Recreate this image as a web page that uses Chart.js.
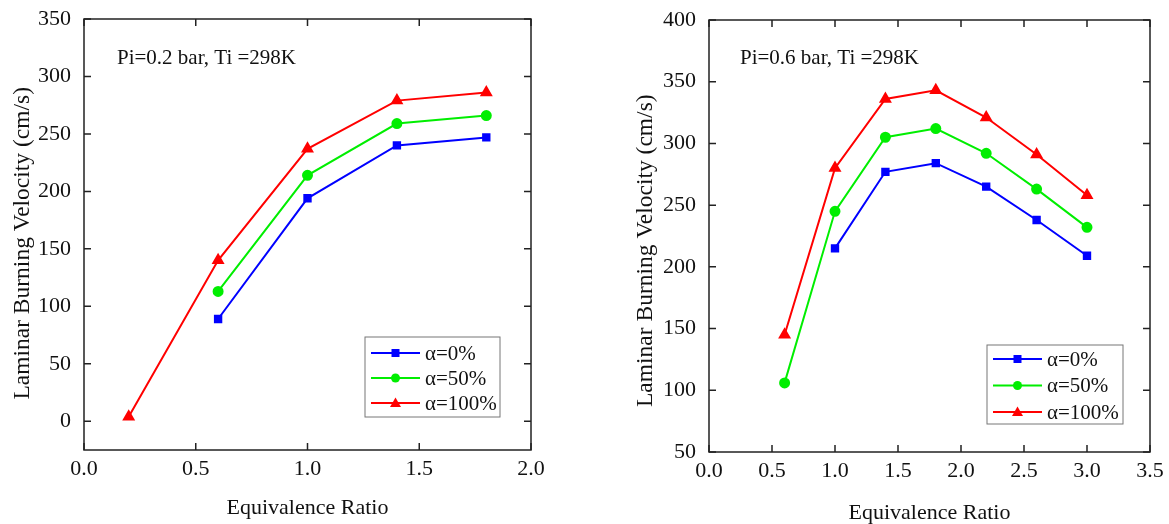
<!DOCTYPE html>
<html>
<head>
<meta charset="utf-8">
<script src="https://cdn.jsdelivr.net/npm/chart.js@4.4.1/dist/chart.umd.min.js"></script>
<style>
    html, body { margin: 0; padding: 0; background: #ffffff; }
    .panel { position: absolute; top: 0; }
    #leftPanel { left: 0; width: 560px; height: 524px; }
    #rightPanel { left: 600px; width: 569px; height: 524px; }
</style>
</head>
<body>
<div class="panel" id="leftPanel"><canvas id="leftChart" width="560" height="524"></canvas></div>
<div class="panel" id="rightPanel"><canvas id="rightChart" width="569" height="524"></canvas></div>
<script>
// series names and colours
const seriesNames = ['α=0%', 'α=50%', 'α=100%'];
const seriesColors = ['#0000ff', '#00ee00', '#ff0000'];
const seriesMarkers = ['rect', 'circle', 'triangle'];

// Pi = 0.2 bar
const leftX0 = [0.6, 1.0, 1.4, 1.8];
const leftY0 = [89, 194, 240, 247];
const leftX50 = [0.6, 1.0, 1.4, 1.8];
const leftY50 = [113, 214, 259, 266];
const leftX100 = [0.2, 0.6, 1.0, 1.4, 1.8];
const leftY100 = [4, 140, 237, 279, 286];
const leftXTicks = [0, 0.5, 1.0, 1.5, 2.0];
const leftYTicks = [0, 50, 100, 150, 200, 250, 300, 350];

// Pi = 0.6 bar
const rightX0 = [1.0, 1.4, 1.8, 2.2, 2.6, 3.0];
const rightY0 = [215, 277, 284, 265, 238, 209];
const rightX50 = [0.6, 1.0, 1.4, 1.8, 2.2, 2.6, 3.0];
const rightY50 = [106, 245, 305, 312, 292, 263, 232];
const rightX100 = [0.6, 1.0, 1.4, 1.8, 2.2, 2.6, 3.0];
const rightY100 = [145, 280, 336, 343, 321, 291, 258];
const rightXTicks = [0, 0.5, 1.0, 1.5, 2.0, 2.5, 3.0, 3.5];
const rightYTicks = [50, 100, 150, 200, 250, 300, 350, 400];

const FONT = "'Liberation Serif', 'Times New Roman', serif";

function toPoints(xs, ys) {
    return xs.map((x, i) => ({ x: x, y: ys[i] }));
}

// frame, inward ticks, note text and the boxed legend
const framePlugin = {
    id: 'frame',
    afterDraw(chart, args, opts) {
        const ctx = chart.ctx;
        const a = chart.chartArea;
        const xs = chart.scales.x;
        const ys = chart.scales.y;
        ctx.save();
        ctx.strokeStyle = '#222';
        ctx.lineWidth = 1.5;
        ctx.strokeRect(a.left, a.top, a.right - a.left, a.bottom - a.top);

        const len = 7;
        ctx.beginPath();
        xs.ticks.forEach(t => {
            const px = xs.getPixelForValue(t.value);
            ctx.moveTo(px, a.bottom); ctx.lineTo(px, a.bottom - len);
            ctx.moveTo(px, a.top); ctx.lineTo(px, a.top + len);
        });
        ys.ticks.forEach(t => {
            const py = ys.getPixelForValue(t.value);
            ctx.moveTo(a.left, py); ctx.lineTo(a.left + len, py);
            ctx.moveTo(a.right, py); ctx.lineTo(a.right - len, py);
        });
        ctx.stroke();

        // note
        ctx.fillStyle = '#111';
        ctx.font = '21px ' + FONT;
        ctx.textBaseline = 'middle';
        ctx.fillText(opts.note, a.left + opts.noteDx, a.top + opts.noteDy);

        // legend box
        const lb = opts.legend;
        const bx = a.right - lb.right - lb.w;
        const by = a.bottom - lb.bottom - lb.h;
        ctx.strokeStyle = '#777';
        ctx.lineWidth = 1;
        ctx.strokeRect(bx, by, lb.w, lb.h);
        chart.data.datasets.forEach((ds, i) => {
            const ry = by + lb.firstRow + i * lb.rowGap;
            const x1 = bx + 6, x2 = bx + 55, mx = (x1 + x2) / 2;
            ctx.strokeStyle = ds.borderColor;
            ctx.lineWidth = 2;
            ctx.beginPath();
            ctx.moveTo(x1, ry); ctx.lineTo(x2, ry);
            ctx.stroke();
            ctx.fillStyle = ds.borderColor;
            ctx.beginPath();
            if (ds.pointStyle === 'rect') {
                ctx.rect(mx - 4, ry - 4, 8, 8);
            } else if (ds.pointStyle === 'circle') {
                ctx.arc(mx, ry, 4.5, 0, Math.PI * 2);
            } else {
                ctx.moveTo(mx, ry - 5.5); ctx.lineTo(mx + 5.5, ry + 4); ctx.lineTo(mx - 5.5, ry + 4);
                ctx.closePath();
            }
            ctx.fill();
            ctx.fillStyle = '#111';
            ctx.font = '21px ' + FONT;
            ctx.fillText(ds.label, x2 + 5, ry + 1);
        });
        ctx.restore();
    }
};

function makeChart(canvasId, cfg) {
    const datasets = cfg.series.map((pts, i) => ({
        label: seriesNames[i],
        data: pts,
        borderColor: seriesColors[i],
        backgroundColor: seriesColors[i],
        pointBackgroundColor: seriesColors[i],
        pointBorderColor: seriesColors[i],
        pointStyle: seriesMarkers[i],
        pointRadius: seriesMarkers[i] === 'triangle' ? 5.5 : 4.5,
        borderWidth: 2,
        tension: 0,
        fill: false
    }));

    return new Chart(document.getElementById(canvasId), {
        type: 'line',
        data: { datasets: datasets },
        options: {
            responsive: false,
            animation: false,
            layout: { padding: { top: cfg.padTop, right: cfg.padRight, left: 0, bottom: 0 } },
            plugins: {
                legend: { display: false },
                tooltip: { enabled: false },
                frame: cfg.frame
            },
            scales: {
                x: {
                    type: 'linear',
                    min: cfg.xTicks[0],
                    max: cfg.xTicks[cfg.xTicks.length - 1],
                    afterBuildTicks: s => { s.ticks = cfg.xTicks.map(v => ({ value: v })); },
                    afterFit: s => {
                        s.height = cfg.xAxisHeight;
                        s.paddingLeft = 0;
                        s.paddingRight = 0;
                    },
                    grid: { display: false, drawTicks: false, tickLength: 0 },
                    border: { display: false },
                    ticks: {
                        color: '#111',
                        font: { family: FONT, size: 22 },
                        padding: 6,
                        maxRotation: 0,
                        callback: v => Number(v).toFixed(1)
                    },
                    title: {
                        display: true,
                        text: 'Equivalence Ratio',
                        color: '#111',
                        font: { family: FONT, size: 22 },
                        padding: { top: 0, bottom: cfg.xTitlePad }
                    }
                },
                y: {
                    min: cfg.yMin,
                    max: cfg.yMax,
                    afterBuildTicks: s => { s.ticks = cfg.yTicks.map(v => ({ value: v })); },
                    afterFit: s => {
                        s.width = cfg.yAxisWidth;
                        s.paddingTop = 0;
                        s.paddingBottom = 0;
                    },
                    grid: { display: false, drawTicks: false, tickLength: 0 },
                    border: { display: false },
                    ticks: {
                        color: '#111',
                        font: { family: FONT, size: 22 },
                        padding: 13
                    },
                    title: {
                        display: true,
                        text: cfg.yTitle,
                        color: '#111',
                        font: { family: FONT, size: 23.5 },
                        padding: { top: cfg.yTitlePad, bottom: 0 }
                    }
                }
            }
        },
        plugins: [framePlugin]
    });
}

makeChart('leftChart', {
    series: [toPoints(leftX0, leftY0), toPoints(leftX50, leftY50), toPoints(leftX100, leftY100)],
    xTicks: leftXTicks,
    yTicks: leftYTicks,
    yMin: -25,
    yMax: 350,
    padTop: 19,
    padRight: 29,
    xAxisHeight: 74,
    yAxisWidth: 84,
    xTitlePad: 3,
    yTitlePad: 9,
    yTitle: 'Laminar Burning Velocity (cm/s)   ',
    frame: {
        note: 'Pi=0.2 bar, Ti =298K',
        noteDx: 33, noteDy: 39,
        legend: { w: 135, h: 80, right: 31, bottom: 33, firstRow: 16, rowGap: 25 }
    }
});

makeChart('rightChart', {
    series: [toPoints(rightX0, rightY0), toPoints(rightX50, rightY50), toPoints(rightX100, rightY100)],
    xTicks: rightXTicks,
    yTicks: rightYTicks,
    yMin: 50,
    yMax: 400,
    padTop: 20,
    padRight: 19,
    xAxisHeight: 72,
    yAxisWidth: 109,
    xTitlePad: -2,
    yTitlePad: 32,
    yTitle: 'Laminar Burning Velocity (cm/s)     ',
    frame: {
        note: 'Pi=0.6 bar, Ti =298K',
        noteDx: 31, noteDy: 38,
        legend: { w: 136, h: 79, right: 27, bottom: 28, firstRow: 14, rowGap: 26.5 }
    }
});
</script>
</body>
</html>
